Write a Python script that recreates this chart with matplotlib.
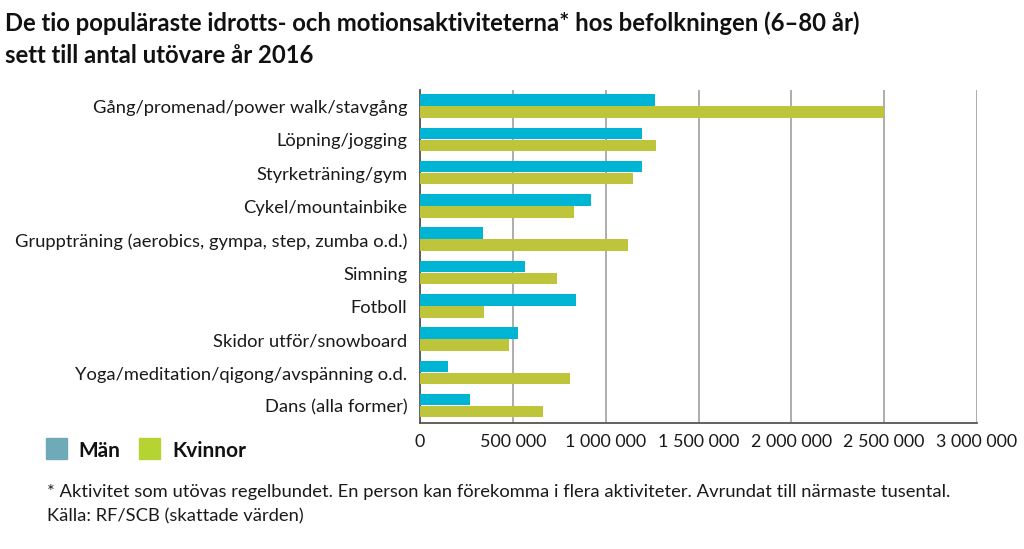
import matplotlib
matplotlib.use("Agg")
import matplotlib.pyplot as plt
from matplotlib.patches import Rectangle
from matplotlib.ticker import FuncFormatter

plt.rcParams['font.family'] = ['Lato', 'DejaVu Sans']

categories = [
    "Gång/promenad/power walk/stavgång",
    "Löpning/jogging",
    "Styrketräning/gym",
    "Cykel/mountainbike",
    "Gruppträning (aerobics, gympa, step, zumba o.d.)",
    "Simning",
    "Fotboll",
    "Skidor utför/snowboard",
    "Yoga/meditation/qigong/avspänning o.d.",
    "Dans (alla former)",
]
man = [1267000, 1195000, 1197000, 919000, 339000, 565000, 842000, 530000, 152000, 267000]
kvinnor = [2500000, 1269000, 1147000, 828000, 1122000, 737000, 346000, 478000, 810000, 661000]
xticks = [0, 500000, 1000000, 1500000, 2000000, 2500000, 3000000]

title = ("De tio populäraste idrotts- och motionsaktiviteterna* hos befolkningen (6–80 år)\n"
         "sett till antal utövare år 2016")
footnote = ("* Aktivitet som utövas regelbundet. En person kan förekomma i flera aktiviteter. "
            "Avrundat till närmaste tusental.\nKälla: RF/SCB (skattade värden)")

blue = "#00b5d3"
green = "#bfc53b"
legend_blue = "#6faab9"
legend_green = "#b6d334"

W, H = 1024, 549
fig = plt.figure(figsize=(W / 100, H / 100), dpi=100)
ax = fig.add_axes([420 / W, 1 - 423 / H, (977 - 420) / W, (423 - 90) / H])

ys = list(range(len(categories)))
bh = 0.345
ax.barh([y - 0.2 for y in ys], man, height=bh, color=blue, zorder=3)
ax.barh([y + 0.16 for y in ys], kvinnor, height=bh, color=green, zorder=3)

ax.set_ylim(len(categories) - 0.5, -0.5)
ax.set_xlim(0, 3000000)
ax.set_yticks(ys)
ax.set_yticklabels(categories, fontsize=13.2, color="#1a1a1a")
ax.set_xticks(xticks)
ax.xaxis.set_major_formatter(FuncFormatter(lambda v, p: f"{int(v):,}".replace(",", " ")))
ax.tick_params(axis='x', labelsize=12.9, length=0, pad=8, colors="#1a1a1a")
ax.tick_params(axis='y', length=0, pad=9)
ax.grid(axis='x', color="#a0a0a0", linewidth=1.2, zorder=0)
for s in ['top', 'right']:
    ax.spines[s].set_visible(False)
for s in ['left', 'bottom']:
    ax.spines[s].set_color("#555555")
    ax.spines[s].set_linewidth(1.3)

fig.text(5 / W, 1 - 11 / H, title, fontsize=17.2, fontweight='bold', va='top', ha='left',
         linespacing=1.5, color="#111111")

# legend
for x0, col, lab, tx in [(46, legend_blue, "Män", 78), (139, legend_green, "Kvinnor", 172)]:
    fig.patches.append(Rectangle((x0 / W, 1 - 459 / H), 21 / W, 21 / H,
                                 transform=fig.transFigure, color=col, figure=fig))
    fig.text(tx / W, 1 - 451 / H, lab, fontsize=15, fontweight='bold', va='center', ha='left',
             color="#111111")

fig.text(47 / W, 1 - 484 / H, footnote, fontsize=13.2, va='top', ha='left', linespacing=1.6,
         color="#1a1a1a")

fig.savefig("out.png", dpi=100)
